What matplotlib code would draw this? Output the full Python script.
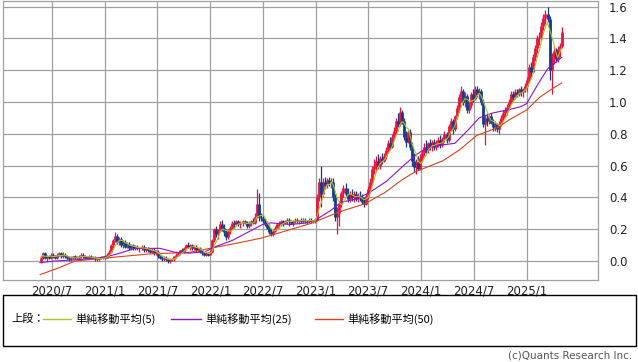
import matplotlib
matplotlib.use("Agg")
import matplotlib.pyplot as plt
import matplotlib.dates as mdates
from matplotlib.lines import Line2D
from matplotlib.patches import Rectangle
import numpy as np
import pandas as pd

# ---- weekly candles (open, high, low, close) ----
w2020 = [(0.00,0.03,-0.01,0.02),(0.02,0.06,0.01,0.05),(0.05,0.06,0.01,0.02),(0.02,0.04,0.00,0.03),
         (0.03,0.04,0.01,0.02),(0.02,0.05,0.01,0.04),(0.04,0.05,0.02,0.03),(0.03,0.04,0.01,0.02),
         (0.02,0.05,0.01,0.04),(0.04,0.06,0.03,0.05),(0.05,0.06,0.02,0.03),(0.03,0.06,0.02,0.04),
         (0.04,0.05,0.02,0.03),(0.03,0.04,0.01,0.02),(0.02,0.03,0.00,0.01),(0.01,0.03,0.00,0.02),
         (0.02,0.03,0.01,0.03),(0.03,0.04,0.01,0.02),(0.02,0.03,0.01,0.02),(0.02,0.04,0.01,0.03),
         (0.03,0.05,0.02,0.04),(0.04,0.05,0.02,0.03),(0.03,0.04,0.01,0.02),(0.02,0.03,0.01,0.02),
         (0.02,0.04,0.01,0.03),(0.03,0.04,0.01,0.02),(0.02,0.03,0.01,0.02),(0.02,0.03,0.00,0.01),
         (0.01,0.02,0.00,0.01),(0.01,0.02,0.00,0.02),(0.02,0.03,0.01,0.02),(0.02,0.03,0.01,0.03)]
w2021 = [(0.03,0.04,0.01,0.02),(0.02,0.05,0.02,0.04),(0.04,0.07,0.03,0.06),(0.06,0.11,0.05,0.10),
         (0.10,0.14,0.08,0.13),(0.13,0.18,0.12,0.16),(0.16,0.17,0.11,0.12),(0.12,0.15,0.10,0.14),
         (0.14,0.15,0.09,0.10),(0.10,0.13,0.08,0.12),(0.12,0.13,0.08,0.09),(0.09,0.12,0.08,0.11),
         (0.11,0.12,0.07,0.08),(0.08,0.11,0.07,0.10),(0.10,0.11,0.07,0.08),(0.08,0.10,0.07,0.09),
         (0.09,0.10,0.07,0.08),(0.08,0.09,0.06,0.08),(0.08,0.10,0.07,0.09),(0.09,0.10,0.06,0.07),
         (0.07,0.09,0.06,0.08),(0.08,0.09,0.06,0.07),(0.07,0.08,0.05,0.06),(0.06,0.08,0.05,0.07),
         (0.07,0.08,0.04,0.05),(0.05,0.07,0.04,0.06),(0.06,0.07,0.02,0.03),(0.03,0.04,0.01,0.02),
         (0.02,0.03,0.00,0.01),(0.01,0.03,0.00,0.02),(0.02,0.03,0.00,0.01),(0.01,0.02,-0.01,0.00),
         (0.00,0.02,-0.01,0.01),(0.01,0.02,0.00,0.01),(0.01,0.03,0.00,0.03),(0.03,0.05,0.02,0.04),
         (0.04,0.06,0.03,0.05),(0.05,0.07,0.04,0.07),(0.07,0.08,0.05,0.06),(0.06,0.09,0.05,0.08),
         (0.08,0.11,0.07,0.10),(0.10,0.12,0.08,0.09),(0.09,0.11,0.07,0.10),(0.10,0.11,0.07,0.08),
         (0.08,0.10,0.07,0.09),(0.09,0.10,0.06,0.07),(0.07,0.09,0.06,0.08),(0.08,0.09,0.05,0.06),
         (0.06,0.07,0.04,0.05),(0.05,0.06,0.03,0.04),(0.04,0.06,0.03,0.05),(0.05,0.06,0.03,0.04),
         (0.04,0.07,0.04,0.06)]
w2022 = [(0.06,0.14,0.05,0.13),(0.13,0.21,0.12,0.20),(0.20,0.22,0.15,0.17),(0.17,0.20,0.14,0.19),
         (0.19,0.25,0.18,0.23),(0.23,0.26,0.19,0.21),(0.21,0.23,0.16,0.18),(0.18,0.20,0.13,0.15),
         (0.15,0.20,0.14,0.19),(0.19,0.22,0.17,0.21),(0.21,0.25,0.20,0.24),(0.24,0.26,0.21,0.23),
         (0.23,0.26,0.22,0.25),(0.25,0.26,0.22,0.23),(0.23,0.25,0.21,0.24),(0.24,0.26,0.22,0.25),
         (0.25,0.26,0.23,0.24),(0.24,0.25,0.21,0.22),(0.22,0.25,0.21,0.24),(0.24,0.26,0.22,0.25),
         (0.25,0.27,0.23,0.24),(0.24,0.30,0.23,0.28),(0.28,0.45,0.27,0.36),(0.36,0.43,0.25,0.28),
         (0.28,0.30,0.25,0.27),(0.27,0.29,0.24,0.25),(0.25,0.27,0.22,0.23),(0.23,0.25,0.20,0.21),
         (0.21,0.23,0.17,0.18),(0.18,0.20,0.16,0.17),(0.17,0.20,0.16,0.19),(0.19,0.22,0.18,0.21),
         (0.21,0.24,0.20,0.23),(0.23,0.25,0.21,0.24),(0.24,0.26,0.22,0.25),(0.25,0.26,0.22,0.24),
         (0.24,0.26,0.23,0.25),(0.25,0.27,0.23,0.26),(0.26,0.27,0.22,0.25),(0.25,0.26,0.23,0.24),
         (0.24,0.26,0.22,0.25),(0.25,0.27,0.24,0.26),(0.26,0.27,0.24,0.25),(0.25,0.26,0.23,0.26),
         (0.26,0.27,0.24,0.25),(0.25,0.27,0.24,0.26),(0.26,0.27,0.24,0.25),(0.25,0.26,0.23,0.25),
         (0.25,0.27,0.24,0.26),(0.26,0.27,0.24,0.25),(0.25,0.26,0.24,0.25),(0.25,0.27,0.24,0.26)]
w2023 = [(0.26,0.42,0.25,0.40),(0.40,0.52,0.38,0.50),(0.50,0.60,0.34,0.42),(0.42,0.52,0.40,0.50),
         (0.50,0.53,0.45,0.48),(0.48,0.52,0.46,0.51),(0.51,0.53,0.47,0.49),(0.49,0.52,0.46,0.50),
         (0.50,0.52,0.38,0.40),(0.40,0.42,0.25,0.28),(0.28,0.34,0.17,0.30),(0.30,0.38,0.22,0.36),
         (0.36,0.44,0.34,0.43),(0.43,0.48,0.40,0.46),(0.46,0.49,0.41,0.42),(0.42,0.46,0.37,0.39),
         (0.39,0.44,0.37,0.42),(0.42,0.45,0.38,0.40),(0.40,0.44,0.37,0.42),(0.42,0.44,0.38,0.39),
         (0.39,0.43,0.37,0.41),(0.41,0.44,0.38,0.40),(0.40,0.42,0.36,0.37),(0.37,0.40,0.34,0.36),
         (0.36,0.42,0.35,0.41),(0.41,0.47,0.39,0.45),(0.45,0.52,0.43,0.50),(0.50,0.60,0.48,0.58),
         (0.58,0.64,0.55,0.60),(0.60,0.66,0.56,0.63),(0.63,0.67,0.58,0.60),(0.60,0.66,0.58,0.65),
         (0.65,0.68,0.61,0.63),(0.63,0.68,0.62,0.66),(0.66,0.72,0.64,0.70),(0.70,0.76,0.68,0.74),
         (0.74,0.78,0.70,0.72),(0.72,0.80,0.71,0.78),(0.78,0.84,0.76,0.82),(0.82,0.90,0.80,0.88),
         (0.88,0.93,0.84,0.86),(0.86,0.97,0.85,0.94),(0.94,0.95,0.86,0.88),(0.88,0.90,0.76,0.78),
         (0.78,0.82,0.72,0.75),(0.75,0.83,0.74,0.81),(0.81,0.83,0.70,0.72),(0.72,0.75,0.60,0.63),
         (0.63,0.68,0.56,0.59),(0.59,0.64,0.55,0.62),(0.62,0.66,0.57,0.58),(0.58,0.67,0.57,0.65)]
w2024 = [(0.65,0.70,0.62,0.68),(0.68,0.74,0.66,0.72),(0.72,0.76,0.68,0.70),(0.70,0.75,0.68,0.74),
         (0.74,0.77,0.70,0.72),(0.72,0.76,0.69,0.75),(0.75,0.77,0.70,0.72),(0.72,0.76,0.70,0.74),
         (0.74,0.78,0.72,0.76),(0.76,0.79,0.71,0.73),(0.73,0.78,0.72,0.77),(0.77,0.82,0.75,0.80),
         (0.80,0.81,0.74,0.76),(0.76,0.86,0.75,0.85),(0.85,0.90,0.82,0.88),(0.88,0.89,0.80,0.83),
         (0.83,0.92,0.82,0.91),(0.91,0.98,0.89,0.96),(0.96,1.05,0.94,1.03),(1.03,1.10,1.00,1.07),
         (1.07,1.08,0.98,1.00),(1.00,1.06,0.97,1.04),(1.04,1.05,0.93,0.95),(0.95,1.00,0.93,0.98),
         (0.98,1.06,0.96,1.05),(1.05,1.08,1.00,1.02),(1.02,1.10,1.01,1.08),(1.08,1.10,1.03,1.05),
         (1.05,1.09,1.02,1.07),(1.07,1.08,0.98,1.00),(1.00,1.02,0.84,0.86),(0.86,0.92,0.73,0.90),
         (0.90,0.93,0.85,0.88),(0.88,0.92,0.86,0.91),(0.91,0.93,0.86,0.87),(0.87,0.89,0.82,0.84),
         (0.84,0.88,0.82,0.86),(0.86,0.87,0.81,0.83),(0.83,0.88,0.80,0.86),(0.86,0.92,0.85,0.90),
         (0.90,0.95,0.88,0.93),(0.93,0.97,0.90,0.95),(0.95,0.99,0.92,0.97),(0.97,1.02,0.95,1.00),
         (1.00,1.07,0.99,1.05),(1.05,1.07,1.01,1.03),(1.03,1.08,1.02,1.06),(1.06,1.08,1.03,1.05),
         (1.05,1.09,1.04,1.08),(1.08,1.10,1.04,1.06),(1.06,1.09,1.03,1.08),(1.08,1.12,1.06,1.10)]
w2025 = [(1.10,1.16,1.07,1.14),(1.14,1.24,1.12,1.22),(1.22,1.25,1.16,1.19),(1.19,1.30,1.18,1.28),
         (1.28,1.36,1.26,1.34),(1.34,1.42,1.31,1.40),(1.40,1.44,1.36,1.41),(1.41,1.50,1.39,1.48),
         (1.48,1.55,1.45,1.53),(1.53,1.58,1.49,1.55),(1.55,1.60,1.50,1.52),(1.52,1.54,1.14,1.20),
         (1.20,1.31,1.05,1.28),(1.28,1.35,1.24,1.32),(1.32,1.34,1.25,1.27),(1.27,1.35,1.25,1.33),
         (1.33,1.37,1.28,1.35),(1.35,1.47,1.34,1.44)]
year_starts = ["2020-05-22", "2021-01-01", "2022-01-07", "2023-01-06", "2024-01-05", "2025-01-03"]

# ---- moving averages ----
ma25_dates = ["2020-05-20","2020-07-11","2020-10-06","2021-01-01","2021-02-22","2021-04-14",
              "2021-07-10","2021-09-01","2021-10-22","2021-12-14","2022-01-18","2022-03-18",
              "2022-05-20","2022-07-01","2022-07-29","2022-10-07","2022-11-29","2023-01-02",
              "2023-02-23","2023-03-30","2023-05-21","2023-07-05","2023-09-02","2023-11-01",
              "2023-12-16","2024-01-20","2024-03-13","2024-04-27","2024-06-15","2024-07-20",
              "2024-09-03","2024-10-26","2024-12-11","2025-01-01","2025-02-08","2025-03-15",
              "2025-05-02"]
ma25_vals = [-0.01,0.00,0.01,0.025,0.05,0.08,0.08,0.055,0.05,0.06,0.09,0.13,
             0.19,0.23,0.24,0.23,0.24,0.26,0.32,0.37,0.39,0.43,0.50,0.60,
             0.67,0.71,0.73,0.74,0.83,0.90,0.93,0.95,0.97,0.99,1.11,1.21,1.28]
ma50_dates = ["2020-05-21","2020-07-28","2020-09-18","2021-02-04","2021-06-05","2021-10-22",
              "2021-12-30","2022-03-27","2022-06-28","2022-12-12","2023-03-25","2023-06-20",
              "2023-08-28","2023-10-26","2023-12-10","2024-01-07","2024-03-16","2024-05-14",
              "2024-07-12","2024-08-26","2024-09-23","2024-11-03","2025-01-01","2025-02-15",
              "2025-03-28","2025-05-02"]
ma50_vals = [-0.085,-0.04,0.0,0.025,0.045,0.055,0.08,0.11,0.145,0.235,0.31,0.36,
             0.43,0.51,0.56,0.58,0.63,0.70,0.79,0.82,0.84,0.89,0.95,1.03,1.08,1.12]

x_ticks = ["2020-07-01","2021-01-01","2021-07-01","2022-01-01","2022-07-01",
           "2023-01-01","2023-07-01","2024-01-01","2024-07-01","2025-01-01"]
x_labels = ["2020/7","2021/1","2021/7","2022/1","2022/7","2023/1","2023/7","2024/1","2024/7","2025/1"]
y_ticks = [0.0, 0.2, 0.4, 0.6, 0.8, 1.0, 1.2, 1.4, 1.6]

# ---- build frame ----
frames = []
for start, rows in zip(year_starts, [w2020, w2021, w2022, w2023, w2024, w2025]):
    d = pd.date_range(start, periods=len(rows), freq="W-FRI")
    frames.append(pd.DataFrame(rows, columns=["o", "h", "l", "c"], index=d))
df = pd.concat(frames)
ma5 = df["c"].rolling(5, min_periods=1).mean()

UP = "#f0103c"
DOWN = "#123c8c"
GRID = "#a0a0a0"

W, H = 638, 362
fig = plt.figure(figsize=(W / 100, H / 100), dpi=100)
ax = fig.add_axes([3 / W, 1 - 280 / H, 595 / W, 279.5 / H])

x = mdates.date2num(df.index.to_pydatetime())
up = df["c"].values >= df["o"].values
for mask, col in [(up, UP), (~up, DOWN)]:
    ax.vlines(x[mask], df["l"].values[mask], df["h"].values[mask], color=col, lw=0.9, zorder=2)
    ax.vlines(x[mask], np.minimum(df["o"], df["c"]).values[mask],
              np.maximum(df["o"], df["c"]).values[mask], color=col, lw=2.0, zorder=2)

ax.plot(pd.to_datetime(ma50_dates), ma50_vals, color="#e0401a", lw=0.8, zorder=3)
ax.plot(pd.to_datetime(ma25_dates), ma25_vals, color="#8c10d8", lw=0.8, zorder=3)
ax.plot(df.index, ma5.values, color="#a8c820", lw=0.8, zorder=4)

ax.set_xlim(mdates.datestr2num("2020-01-13"), mdates.datestr2num("2025-09-05"))
ax.set_ylim(-0.119, 1.638)
ax.set_xticks(mdates.datestr2num(x_ticks))
ax.set_xticklabels(x_labels, fontsize=8.5, color="#222222")
ax.set_yticks(y_ticks)
ax.set_yticklabels([f"{v:.1f}" for v in y_ticks], fontsize=8.5, color="#222222")
ax.yaxis.tick_right()
ax.tick_params(axis="both", length=0)
ax.tick_params(axis="y", pad=8)
ax.tick_params(axis="x", pad=3)
ax.grid(True, color=GRID, lw=0.9)
ax.set_axisbelow(True)
for s in ax.spines.values():
    s.set_color(GRID)
    s.set_linewidth(0.9)

# ---- legend box ----
jp = ["Noto Sans CJK JP", "DejaVu Sans"]
fig.patches.append(Rectangle((3 / W, 1 - 346 / H), 633 / W, 51 / H, transform=fig.transFigure,
                             fill=False, edgecolor="black", lw=1.0))
ly = 1 - 319 / H
fig.text(11 / W, ly, "上段：", fontsize=8, family=jp, va="center", ha="left")
for x0, x1, col, lab in [(43, 71, "#a8c820", "単純移動平均(5)"),
                         (171, 201, "#8c10d8", "単純移動平均(25)"),
                         (315, 343, "#e0401a", "単純移動平均(50)")]:
    fig.add_artist(Line2D([x0 / W, x1 / W], [ly, ly], color=col, lw=1.0, transform=fig.transFigure))
    fig.text((x1 + 4) / W, ly, lab, fontsize=8, family=jp, va="center", ha="left")

fig.text(632 / W, 1 - 356 / H, "(c)Quants Research Inc.", fontsize=7.5, color="#555555",
         ha="right", va="center")

fig.savefig("out.png", dpi=100)
